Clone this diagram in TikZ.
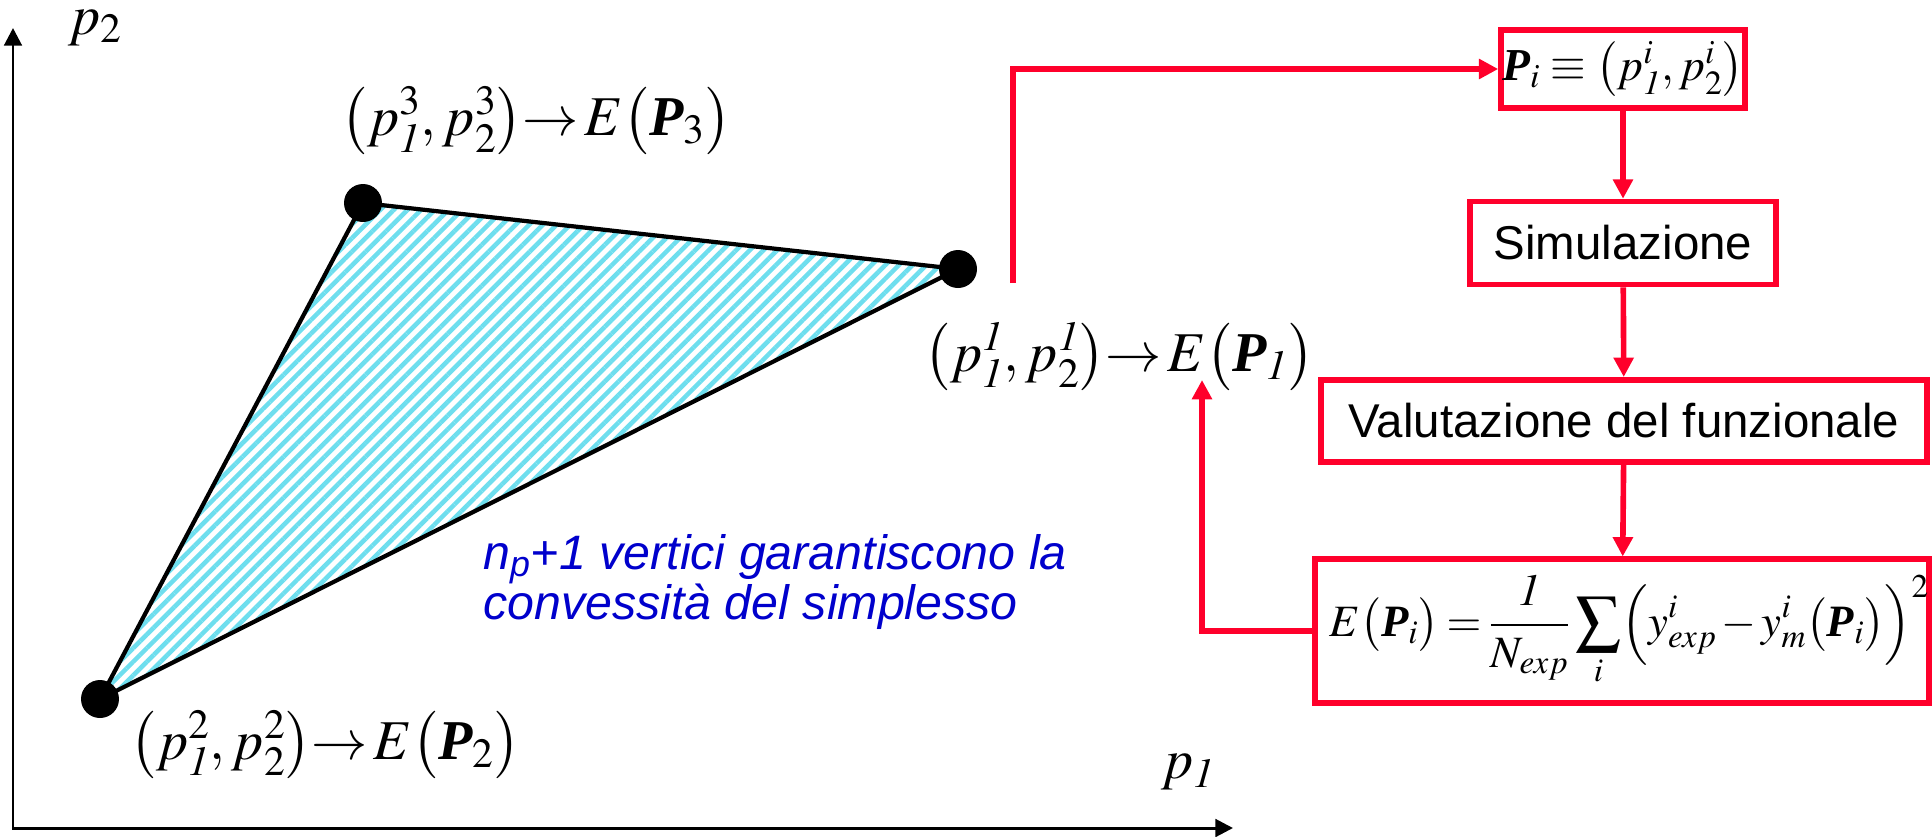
\documentclass[tikz,border=0pt]{standalone}
\usepackage{amsmath}
\usepackage{mathptmx}
\usepackage[no-math]{fontspec}
\setmainfont{Liberation Serif}
\setsansfont{Liberation Sans}
\usepackage{xcolor}
\usetikzlibrary{arrows.meta,patterns.meta}

\definecolor{simred}{RGB}{255,0,43}
\definecolor{noteblue}{RGB}{0,0,204}
\definecolor{hatchcyan}{RGB}{110,222,238}
\newcommand{\bP}{\text{\rmfamily\bfseries\itshape P}}
\newcommand{\maps}{\mathord{\rightarrow}\,}

\begin{document}
\begin{tikzpicture}[x=0.02cm, y=-0.02cm,
  axis/.style={line width=1.7pt, {Triangle[length=10pt, width=10pt]}-{Triangle[length=10pt, width=10pt]}},
  vertex/.style={circle, fill, inner sep=0pt, minimum size=0.76cm},
  lbl/.style={font=\fontsize{32}{38}\selectfont, inner sep=0pt},
  note/.style={font=\sffamily\itshape\fontsize{27.5}{29}\selectfont, text=noteblue, align=left, inner sep=0pt},
  flowbox/.style={draw=simred, line width=3.2pt, font=\sffamily\fontsize{27}{32}\selectfont, inner sep=0pt},
  flow/.style={draw=simred, line width=3.2pt, -{Triangle[length=11pt, width=11pt]}}]
  \useasboundingbox (0,0) rectangle (1932,836);

  % Axes
  \coordinate (o) at (13, 828);
  \coordinate (xend) at (1233, 828);
  \coordinate (yend) at (13, 28);
  \draw[axis] (yend) -- (o) -- (xend);
  \node[lbl] (p2lbl) at (95, 28) {$p_2$};
  \node[lbl] (p1lbl) at (1188, 772) {$p_{\mathit{1}}$};

  % Simplex
  \coordinate (c1) at (958, 269);
  \coordinate (c2) at (100, 699);
  \coordinate (c3) at (363, 203);
  \fill[pattern={Lines[angle=45, distance=5.5pt, line width=2.6pt]}, pattern color=hatchcyan] (c1) -- (c2) -- (c3) -- cycle;
  \draw[line width=2.4pt, line join=round] (c1) -- (c2) -- (c3) -- cycle;
  \node[vertex] (v1) at (c1) {};
  \node[vertex] (v2) at (c2) {};
  \node[vertex] (v3) at (c3) {};

  % Vertex labels
  \node[lbl] (l3) at (536, 121) {$\bigl(p_{\mathit{1}}^{3}, p_{2}^{3}\bigr)\maps E\bigl(\bP_{3}\bigr)$};
  \node[lbl] (l1) at (1119, 357) {$\bigl(p_{\mathit{1}}^{\mathit{1}}, p_{2}^{\mathit{1}}\bigr)\maps E\bigl(\bP_{\mathit{1}}\bigr)$};
  \node[lbl] (l2) at (325, 745) {$\bigl(p_{\mathit{1}}^{2}, p_{2}^{2}\bigr)\maps E\bigl(\bP_{2}\bigr)$};

  % Note
  \node[note, anchor=west] (note) at (483, 582) {n\textsubscript{p}+1 vertici garantiscono la\\convessità del simplesso};

  % Flow chart
  \node[flowbox, minimum width=4.88cm, minimum height=1.56cm] (b1) at (1623, 69) {\fontsize{26}{32}\selectfont$\bP_{i} \equiv \bigl(p_{\mathit{1}}^{i}, p_{2}^{i}\bigr)$};
  \node[flowbox, minimum width=6.13cm, minimum height=1.66cm] (b2) at (1623, 243) {Simulazione};
  \node[flowbox, minimum width=12.12cm, minimum height=1.65cm] (b3) at (1624, 421) {Valutazione del funzionale};
  \node[flowbox, minimum width=12.2cm, minimum height=2.87cm] (b4) at (1622, 631) {\fontsize{25.5}{32}\selectfont\thickmuskip=3mu\medmuskip=2mu\hspace*{0.3cm}$\displaystyle E\bigl(\bP_{i}\bigr) = \frac{\mathit{1}}{N_{exp}} \sum_{i} \Bigl(y^{i}_{exp} - y^{i}_{m}\bigl(\bP_{i}\bigr)\Bigr)^{2}$};
  \draw[flow] (b1) -- (b2);
  \draw[flow] (b2) -- (b3);
  \draw[flow] (b3) -- (b4);

  % Loop arrows
  \coordinate (up) at (1013, 283);
  \coordinate (fb) at (1202, 380);
  \draw[flow] (up) |- (b1.west);
  \draw[flow] (b4.west) -| (fb);
\end{tikzpicture}
\end{document}
